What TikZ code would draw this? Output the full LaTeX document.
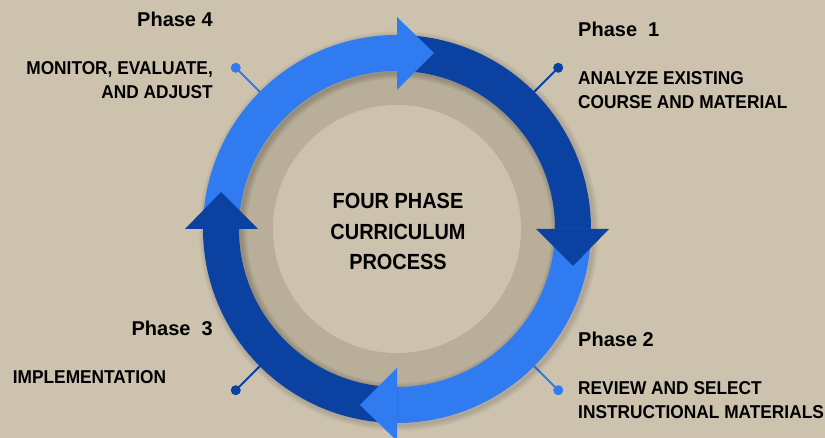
\documentclass[tikz,border=0pt]{standalone}
\usepackage{fontspec}
\setmainfont{Liberation Sans}
\newfontfamily\narrowsans{Liberation Sans}[FakeStretch=0.93]
\newfontfamily\titlesans{Liberation Sans}[FakeStretch=0.91]
\usetikzlibrary{calc}
\definecolor{bg}{HTML}{CCC2AE}
\definecolor{ringgray}{HTML}{B8AE99}
\definecolor{lightblue}{HTML}{307BF0}
\definecolor{darkblue}{HTML}{0B41A0}

\begin{document}
\begin{tikzpicture}[x=1pt,y=1pt,
  phaselabel/.style={inner sep=0pt, text=black, font=\fontsize{20}{24}\selectfont\bfseries},
  desc/.style={inner sep=0pt, text=black, font=\narrowsans\fontsize{18.6}{22}\selectfont\bfseries},
  title/.style={inner sep=0pt, text=black, font=\titlesans\fontsize{21.9}{26}\selectfont\bfseries},
  dot/.style={circle, inner sep=0pt, minimum size=10pt, fill=#1},
  leader/.style={draw=#1, line width=2pt},
]
\useasboundingbox (0,0) rectangle (825,438);
\fill[bg] (0,0) rectangle (825,438);
\coordinate (C) at (397,209);

% leader lines from the ring to the phase dots
\coordinate (r1) at ($(C)+(45:190pt)$);
\coordinate (r2) at ($(C)+(-45:190pt)$);
\coordinate (r3) at ($(C)+(225:190pt)$);
\coordinate (r4) at ($(C)+(135:190pt)$);
\node[dot=darkblue]  (d1) at ($(C)+(45:228pt)$) {};
\node[dot=lightblue] (d2) at ($(C)+(-45:228pt)$) {};
\node[dot=darkblue]  (d3) at ($(C)+(225:228pt)$) {};
\node[dot=lightblue] (d4) at ($(C)+(135:228pt)$) {};
\draw[leader=darkblue]  (r1) -- (d1.center);
\draw[leader=lightblue] (r2) -- (d2.center);
\draw[leader=darkblue]  (r3) -- (d3.center);
\draw[leader=lightblue] (r4) -- (d4.center);

% grey band and inner disc
\fill[ringgray] (C) circle (158pt);
\fill[bg] (C) circle (124pt);

% soft drop shadow of the ring
\foreach \w in {2,4,6,8,10,12} {
  \draw[black, opacity=0.025, line width=\w pt] ($(C)+(2,-2)$) circle (194pt);
  \draw[black, opacity=0.03, line width=\w pt] ($(C)+(2,-2)$) circle (158pt);
}

% arc bodies, clockwise, each a quarter turn
\foreach \s/\col in {180/lightblue, 90/darkblue, 0/lightblue, -90/darkblue}
  \fill[\col] ($(C)+(\s:194pt)$) arc[start angle=\s, end angle=\s-90, radius=194pt]
    -- ($(C)+(\s-90:158pt)$) arc[start angle=\s-90, end angle=\s, radius=158pt] -- cycle;

% arrow heads at the end of each arc
\foreach \e/\col in {90/lightblue, 0/darkblue, -90/lightblue, 180/darkblue}
  \fill[\col] ($(C)+(\e:139pt)$) -- ($(C)+(\e:212pt)$)
    -- ($(C)+(\e:176pt)+(\e-90:37pt)$) -- cycle;

% centre title
\node[title, anchor=base] (t1) at (398,229.7) {FOUR PHASE};
\node[title, anchor=base] (t2) at (398,198) {CURRICULUM};
\node[title, anchor=base] (t3) at (398,168.7) {PROCESS};

% phase 1
\node[phaselabel, anchor=base west] (p1) at (578,401.3) {Phase\ \ 1};
\node[desc, anchor=base west] (p1a) at (578,353) {ANALYZE EXISTING};
\node[desc, anchor=base west] (p1b) at (578,329) {COURSE AND MATERIAL};

% phase 2
\node[phaselabel, anchor=base west] (p2) at (578,91.3) {Phase 2};
\node[desc, anchor=base west] (p2a) at (578,43) {REVIEW AND SELECT};
\node[desc, anchor=base west] (p2b) at (578,19) {INSTRUCTIONAL MATERIALS};

% phase 3
\node[phaselabel, anchor=base east] (p3) at (213,102.3) {Phase\ \ 3};
\node[desc, anchor=base west] (p3a) at (12.7,54.7) {IMPLEMENTATION};

% phase 4
\node[phaselabel, anchor=base east] (p4) at (213,411.3) {Phase 4};
\node[desc, anchor=base east] (p4a) at (213,363) {MONITOR, EVALUATE,};
\node[desc, anchor=base east] (p4b) at (213,339.7) {AND ADJUST};
\end{tikzpicture}
\end{document}
